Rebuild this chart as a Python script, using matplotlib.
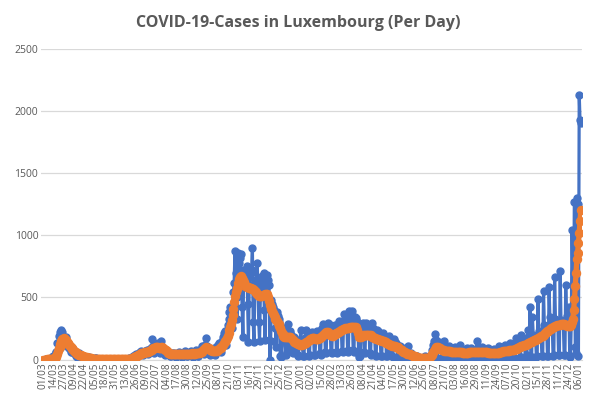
"""
COVID-19 cases in Luxembourg per day, with the 7-day average line.
Values read off the reference chart, one row per week (Sun..Sat).
"""

import numpy as np
import pandas as pd
import matplotlib
matplotlib.use("Agg")
import matplotlib.pyplot as plt

start_date = "2020-03-01"
title = "COVID-19-Cases in Luxembourg (Per Day)"

# daily reported cases, week rows starting on Sunday 01/03/2020
daily_cases = [
    0, 0, 0, 0, 1, 1, 2,
    0, 1, 2, 3, 19, 8, 25,
    18, 31, 59, 63, 136, 132, 186,
    94, 222, 234, 225, 166, 156, 128,
    115, 183, 129, 137, 102, 90, 83,
    57, 60, 74, 81, 70, 44, 52,
    31, 21, 38, 52, 45, 36, 30,
    15, 28, 24, 22, 19, 17, 11,
    8, 14, 20, 12, 10, 5, 6,
    3, 6, 12, 5, 9, 7, 4,
    2, 3, 5, 3, 6, 4, 2,
    1, 3, 2, 4, 2, 3, 2,
    1, 2, 3, 2, 5, 3, 2,
    1, 3, 2, 4, 3, 6, 2,
    1, 2, 3, 5, 4, 3, 2,
    2, 4, 6, 8, 10, 12, 8,
    10, 18, 25, 30, 38, 45, 30,
    28, 40, 55, 62, 58, 70, 50,
    40, 55, 60, 68, 72, 75, 50,
    45, 80, 85, 95, 100, 165, 70,
    55, 105, 110, 100, 120, 130, 65,
    50, 100, 150, 90, 85, 75, 50,
    40, 55, 60, 55, 50, 45, 30,
    25, 45, 50, 40, 55, 48, 30,
    20, 40, 55, 45, 60, 50, 25,
    20, 35, 50, 45, 65, 40, 25,
    25, 40, 55, 60, 70, 50, 30,
    20, 45, 50, 60, 75, 55, 30,
    25, 50, 60, 85, 95, 110, 55,
    45, 120, 177, 110, 105, 90, 50,
    35, 70, 80, 75, 85, 90, 50,
    40, 85, 95, 110, 120, 130, 70,
    60, 130, 150, 180, 210, 230, 140,
    120, 230, 280, 330, 380, 420, 300,
    250, 420, 540, 620, 872, 700, 500,
    324, 859, 780, 820, 850, 680, 420,
    178, 720, 650, 600, 700, 750, 450,
    140, 600, 680, 700, 720, 899, 300,
    138, 550, 600, 640, 779, 600, 300,
    150, 500, 560, 672, 620, 700, 400,
    160, 600, 620, 680, 640, 597, 0,
    150, 480, 450, 420, 400, 380, 250,
    100, 380, 350, 330, 300, 30, 20,
    30, 250, 220, 240, 180, 40, 120,
    60, 285, 200, 230, 210, 200, 80,
    50, 180, 170, 160, 150, 140, 40,
    30, 160, 150, 239, 130, 110, 30,
    30, 170, 180, 239, 160, 150, 30,
    40, 200, 213, 220, 210, 200, 40,
    40, 220, 230, 220, 200, 190, 50,
    40, 240, 250, 283, 260, 230, 60,
    50, 270, 296, 280, 290, 260, 60,
    50, 260, 250, 270, 280, 250, 60,
    50, 290, 311, 300, 290, 260, 70,
    60, 320, 365, 330, 340, 300, 80,
    60, 391, 340, 360, 391, 330, 80,
    60, 340, 331, 320, 300, 250, 40,
    20, 30, 250, 260, 296, 270, 60,
    50, 298, 260, 280, 270, 250, 50,
    40, 250, 298, 250, 240, 220, 40,
    30, 239, 230, 210, 200, 180, 30,
    30, 200, 210, 190, 180, 170, 30,
    25, 170, 191, 160, 40, 150, 30,
    20, 150, 164, 140, 130, 120, 20,
    15, 40, 110, 100, 90, 80, 15,
    10, 70, 75, 65, 60, 106, 10,
    8, 45, 50, 40, 35, 30, 5,
    5, 25, 30, 20, 18, 15, 3,
    3, 12, 15, 10, 8, 30, 2,
    2, 10, 12, 15, 20, 30, 5,
    10, 80, 120, 150, 204, 160, 20,
    15, 130, 140, 120, 110, 100, 15,
    10, 151, 100, 90, 85, 80, 10,
    10, 110, 95, 85, 80, 75, 10,
    10, 100, 90, 85, 75, 70, 10,
    10, 117, 80, 75, 70, 65, 10,
    10, 40, 95, 85, 80, 70, 10,
    10, 90, 85, 80, 75, 70, 10,
    10, 151, 90, 85, 80, 75, 10,
    10, 100, 90, 80, 75, 70, 10,
    10, 90, 85, 75, 70, 60, 10,
    10, 85, 80, 70, 65, 60, 10,
    10, 110, 90, 85, 80, 75, 10,
    10, 120, 100, 95, 90, 85, 10,
    10, 130, 110, 100, 95, 90, 10,
    15, 170, 140, 130, 120, 110, 15,
    20, 200, 150, 140, 135, 130, 20,
    20, 40, 240, 180, 170, 420, 20,
    20, 339, 200, 190, 180, 170, 20,
    25, 488, 230, 210, 200, 190, 25,
    30, 555, 280, 250, 240, 230, 30,
    30, 582, 340, 300, 290, 280, 30,
    35, 663, 330, 310, 300, 290, 35,
    35, 712, 320, 300, 290, 280, 35,
    40, 604, 330, 350, 400, 420, 30,
    20, 300, 1041, 600, 700, 1271, 100,
    50, 1298, 1250, 28, 2135, 1927, 1906,
]

# 7-day average as drawn in the reference, same week rows
avg_cases = [
    0, 0, 0, 0, 0, 1, 1,
    1, 1, 1, 2, 4, 5, 8,
    11, 14, 22, 30, 48, 65, 90,
    100, 128, 150, 163, 167, 170, 168,
    165, 160, 145, 133, 124, 113, 106,
    100, 90, 82, 74, 67, 61, 57,
    53, 48, 43, 40, 37, 35, 33,
    30, 27, 25, 23, 21, 19, 17,
    15, 13, 12, 11, 10, 9, 8,
    7, 7, 6, 6, 6, 5, 5,
    5, 4, 4, 4, 3, 3, 3,
    3, 3, 3, 3, 3, 3, 3,
    3, 3, 3, 3, 3, 3, 3,
    3, 3, 3, 3, 3, 3, 3,
    3, 3, 3, 3, 3, 3, 3,
    3, 4, 4, 5, 6, 7, 7,
    9, 11, 14, 17, 21, 26, 28,
    31, 34, 38, 43, 46, 50, 52,
    54, 56, 58, 60, 62, 63, 63,
    64, 67, 71, 75, 79, 88, 90,
    92, 95, 97, 98, 99, 97, 96,
    96, 95, 98, 97, 94, 88, 84,
    80, 74, 65, 60, 56, 52, 48,
    46, 44, 43, 41, 42, 42, 42,
    41, 41, 42, 43, 44, 44, 43,
    43, 42, 41, 41, 42, 41, 41,
    42, 43, 44, 46, 47, 48, 49,
    48, 49, 48, 48, 49, 50, 50,
    51, 52, 53, 57, 60, 68, 75,
    82, 90, 96, 97, 96, 94, 90,
    85, 80, 73, 68, 65, 65, 65,
    66, 68, 70, 75, 80, 86, 89,
    92, 99, 107, 117, 130, 144, 153,
    161, 175, 193, 214, 238, 265, 290,
    320, 360, 410, 460, 510, 545, 565,
    580, 620, 650, 668, 672, 668, 655,
    640, 622, 605, 595, 591, 588, 585,
    583, 580, 578, 576, 572, 568, 565,
    560, 552, 545, 538, 530, 522, 515,
    511, 510, 512, 515, 518, 521, 523,
    524, 525, 525, 520, 500, 470, 440,
    420, 405, 390, 375, 360, 345, 330,
    318, 308, 298, 285, 270, 250, 230,
    215, 203, 191, 185, 180, 178, 178,
    180, 183, 184, 182, 178, 172, 165,
    158, 150, 144, 139, 135, 131, 128,
    125, 121, 118, 118, 120, 122, 124,
    127, 131, 135, 140, 145, 150, 155,
    160, 163, 167, 171, 172, 171, 170,
    168, 166, 164, 165, 168, 172, 176,
    180, 185, 190, 196, 202, 208, 214,
    225, 222, 218, 213, 207, 201, 196,
    193, 191, 195, 200, 204, 208, 211,
    214, 218, 222, 227, 232, 237, 241,
    244, 246, 248, 250, 251, 252, 254,
    255, 257, 259, 261, 263, 264, 265,
    265, 264, 260, 250, 235, 215, 200,
    184, 180, 182, 186, 190, 194, 197,
    199, 200, 201, 200, 199, 198, 198,
    196, 190, 184, 178, 175, 172, 170,
    167, 164, 162, 160, 158, 156, 154,
    152, 151, 149, 146, 142, 138, 134,
    130, 127, 124, 120, 117, 114, 111,
    110, 108, 107, 106, 104, 101, 97,
    93, 88, 83, 78, 73, 68, 64,
    60, 57, 54, 51, 48, 46, 45,
    44, 41, 38, 35, 32, 29, 27,
    25, 22, 20, 18, 16, 14, 12,
    11, 10, 10, 9, 9, 10, 10,
    10, 10, 10, 11, 13, 18, 25,
    35, 47, 60, 72, 84, 93, 98,
    100, 99, 96, 92, 87, 82, 78,
    75, 73, 72, 71, 70, 69, 68,
    67, 66, 65, 64, 63, 62, 62,
    61, 61, 60, 60, 59, 59, 58,
    58, 58, 57, 57, 56, 56, 56,
    55, 55, 55, 56, 56, 57, 57,
    58, 58, 59, 59, 60, 60, 61,
    62, 62, 63, 63, 62, 62, 61,
    61, 60, 60, 59, 58, 58, 57,
    57, 56, 56, 55, 55, 54, 54,
    54, 53, 53, 53, 52, 52, 52,
    52, 55, 57, 59, 61, 63, 65,
    66, 67, 68, 69, 70, 71, 72,
    73, 74, 75, 76, 77, 78, 79,
    81, 84, 87, 90, 94, 98, 102,
    105, 108, 110, 112, 113, 115, 117,
    120, 123, 127, 131, 135, 139, 142,
    145, 150, 152, 155, 158, 160, 162,
    165, 170, 175, 180, 185, 188, 190,
    191, 198, 205, 212, 218, 224, 230,
    233, 238, 243, 248, 252, 256, 258,
    262, 266, 270, 274, 277, 279, 280,
    281, 282, 283, 284, 284, 283, 283,
    282, 278, 276, 274, 273, 272, 271,
    272, 280, 300, 324, 400, 485, 591,
    700, 806, 860, 940, 1021, 1114, 1207,
]

y_ticks = [0, 500, 1000, 1500, 2000, 2500]
label_step = 13

BLUE = "#4472C4"
ORANGE = "#ED7D31"
GREY = "#595959"


def main():
    dates = pd.date_range(start_date, periods=len(daily_cases), freq="D")
    x = np.arange(len(dates))

    plt.rcParams["font.family"] = ["Open Sans", "DejaVu Sans"]

    fig = plt.figure(figsize=(5.97, 4.05), dpi=100)
    ax = fig.add_axes([41 / 597, 45.5 / 405, 541 / 597, 310.2 / 405])

    ax.plot(x, daily_cases, "-o", color=BLUE, linewidth=2.3,
            markersize=5.0, zorder=3)
    ax.plot(x, avg_cases, "-o", color=ORANGE, linewidth=3.8,
            markersize=5.8, zorder=4)

    ax.set_ylim(0, 2500)
    ax.set_xlim(-2.5, len(x) + 0.5)
    ax.set_yticks(y_ticks)
    ax.set_yticklabels([str(v) for v in y_ticks], fontsize=7.5, color=GREY)

    tick_pos = x[::label_step]
    ax.set_xticks(tick_pos)
    ax.set_xticklabels(dates[::label_step].strftime("%d/%m"), rotation=90,
                       fontsize=7.2, color=GREY)
    ax.tick_params(axis="both", length=0, pad=2)

    ax.grid(True, axis="y", color="#D9D9D9", linewidth=0.9, zorder=0)
    for side in ["top", "right", "left"]:
        ax.spines[side].set_visible(False)
    ax.spines["bottom"].set_color("#D9D9D9")

    fig.suptitle(title, fontsize=11.5, fontweight="bold", color=GREY,
                 x=0.5, y=0.962)

    fig.savefig("out.png", dpi=100)
    plt.close(fig)


if __name__ == "__main__":
    main()
